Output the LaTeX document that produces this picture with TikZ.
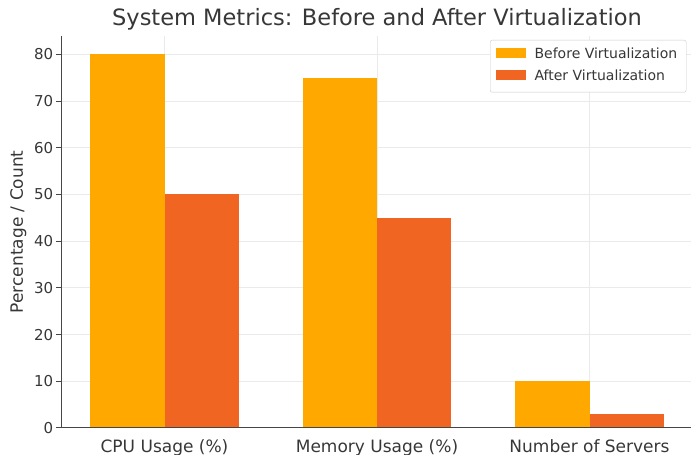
\documentclass[tikz,border=0pt]{standalone}
\usepackage{fontspec}
\setmainfont{DejaVu Sans}
\usetikzlibrary{positioning}
\definecolor{before}{RGB}{255,168,0}
\definecolor{after}{RGB}{241,101,34}
\definecolor{gridgray}{RGB}{234,234,234}
\definecolor{spinegray}{RGB}{70,70,70}
\definecolor{textgray}{RGB}{55,55,55}
\tikzset{
  ticklabel/.style={font=\fontsize{15}{15}\selectfont, text=textgray, inner sep=0pt},
  catlabel/.style={font=\fontsize{17}{17}\selectfont, text=textgray, inner sep=0pt},
  keylabel/.style={font=\fontsize{14}{14}\selectfont, text=textgray, inner sep=0pt, anchor=west},
  keypatch/.style={minimum width=30pt, minimum height=10pt, inner sep=0pt, anchor=west}
}
\begin{document}
\begin{tikzpicture}[x=1pt,y=1pt]
  \useasboundingbox (0,0) rectangle (691,455);
  \begin{scope}[shift={(164.5,27)}, x=212.5pt, y=4.671pt]
    % grid
    \foreach \v in {0,10,...,80}
      \draw[gridgray, line width=1pt] (-0.485,\v) -- (2.48,\v);
    \foreach \c in {0,1,2}
      \draw[gridgray, line width=1pt] (\c,0) -- (\c,84);
    % bars
    \foreach \c/\b/\a in {0/80/50, 1/75/45, 2/10/3} {
      \fill[before] (\c-0.35,0) rectangle (\c,\b);
      \fill[after] (\c,0) rectangle (\c+0.35,\a);
    }
    % axes
    \coordinate (O) at (-0.485,0);
    \coordinate (T) at (-0.485,84);
    \coordinate (E) at (2.48,0);
    \draw[spinegray, line width=1pt] (T) -- (O) -- (E);
    \foreach \v in {0,10,...,80} {
      \coordinate (t\v) at (-0.485,\v);
      \draw[spinegray, line width=1pt] (t\v) -- ++(-5pt,0) coordinate (k\v);
      \node[ticklabel, left=3pt of k\v] (y\v) {\v};
    }
    \node[catlabel, anchor=north] (c0) at (0,-2.4) {CPU Usage (\%)};
    \node[catlabel, anchor=north] (c1) at (1,-2.4) {Memory Usage (\%)};
    \node[catlabel, anchor=north] (c2) at (2,-2.4) {Number of Servers};
    \node[catlabel, rotate=90] (ylab) at (-0.688,42) {Percentage / Count};
    \node[font=\fontsize{22.5}{22.5}\selectfont, text=textgray, inner sep=0pt] (title) at (1,87.6) {System Metrics: Before and After Virtualization};
  \end{scope}
  % legend
  \node[draw=gridgray!70!gray, fill=white, rounded corners=2pt, minimum width=196pt, minimum height=52pt, anchor=north west] (key) at (490,415) {};
  \node[keypatch, fill=before] (kb) at (496,402) {};
  \node[keypatch, fill=after] (ka) at (496,380) {};
  \node[keylabel, right=8pt of kb] (tb) {Before Virtualization};
  \node[keylabel, right=8pt of ka] (ta) {After Virtualization};
\end{tikzpicture}
\end{document}
